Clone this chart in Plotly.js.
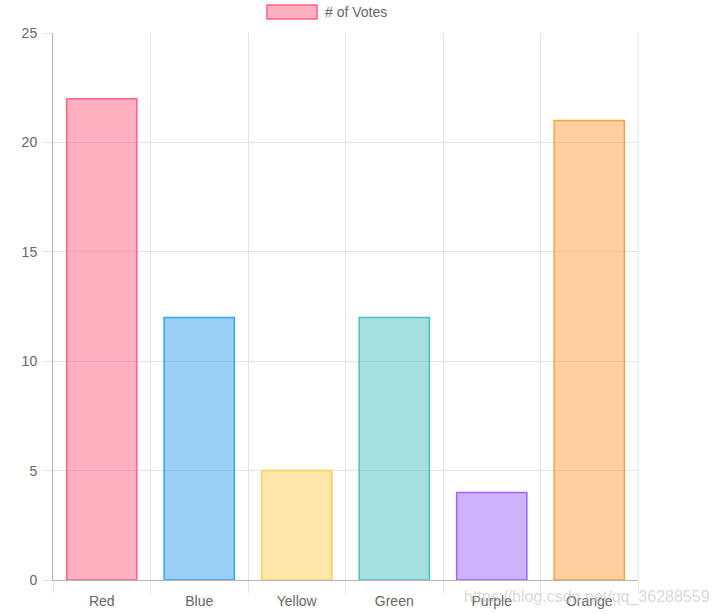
<!DOCTYPE html>
<html>
<head>
<meta charset="utf-8">
<script src="https://cdn.plot.ly/plotly-3.0.1.min.js"></script>
<style>html,body{margin:0;padding:0;background:#fff;}#chart{width:722px;height:614px;}</style>
</head>
<body>
<div id="chart"></div>
<script>
const categories = ["Red", "Blue", "Yellow", "Green", "Purple", "Orange"];
const votes = [22, 12, 5, 12, 4, 21];
const seriesName = "# of Votes";
const fillColors = ["rgba(255,99,132,0.5)", "rgba(54,162,235,0.5)", "rgba(255,206,86,0.5)", "rgba(75,192,192,0.5)", "rgba(153,102,255,0.5)", "rgba(255,159,64,0.5)"];
const borderColors = ["rgb(255,99,132)", "rgb(54,162,235)", "rgb(255,206,86)", "rgb(75,192,192)", "rgb(153,102,255)", "rgb(255,159,64)"];
const watermark = "https://blog.csdn.net/qq_36288559";

const font = {family: "Liberation Sans, Arial, Helvetica, sans-serif", size: 12, color: "#666"};
const W = 722, H = 614;
const mL = 53, mR = 84, mT = 33, mB = 34;
const pw = W - mL - mR, ph = H - mT - mB;
const px = x => (x - mL) / pw;
const py = y => (H - mB - y) / ph;

const data = [{
  type: "bar",
  x: categories,
  y: votes,
  name: seriesName,
  marker: {color: fillColors, line: {color: borderColors, width: 1.5}},
  hoverinfo: "x+y"
}];

const layout = {
  width: W, height: H,
  margin: {l: mL, r: mR, t: mT, b: mB, pad: 0},
  paper_bgcolor: "#fff", plot_bgcolor: "#fff",
  font: font,
  showlegend: false,
  bargap: 0.28,
  xaxis: {
    type: "category",
    tickson: "boundaries",
    ticks: "outside", ticklen: 12, tickcolor: "#e3e3e3", tickwidth: 1,
    showgrid: true, gridcolor: "#e3e3e3", gridwidth: 1,
    showline: true, linecolor: "#b5b5b5", linewidth: 1,
    mirror: false,
    tickfont: {family: font.family, size: 14, color: "#666"},
    ticklabelstandoff: 8,
    zeroline: false
  },
  yaxis: {
    range: [0, 25], dtick: 5, tick0: 0,
    ticks: "outside", ticklen: 9, tickcolor: "#e3e3e3", tickwidth: 1,
    showgrid: true, gridcolor: "#e3e3e3", gridwidth: 1,
    showline: true, linecolor: "#b5b5b5", linewidth: 1,
    zeroline: false,
    tickfont: {family: font.family, size: 14, color: "#666"},
    ticklabelstandoff: 3
  },
  shapes: [
    {type: "line", xref: "paper", yref: "paper", x0: 1, x1: 1, y0: 0, y1: 1, line: {color: "#e3e3e3", width: 1}},
    {type: "rect", xref: "paper", yref: "paper", x0: px(267), x1: px(317), y0: py(19), y1: py(5),
     fillcolor: fillColors[0], line: {color: borderColors[0], width: 1.5}}
  ],
  annotations: [
    {xref: "paper", yref: "paper", x: px(323), y: py(12), xanchor: "left", yanchor: "middle",
     text: seriesName, showarrow: false, font: {family: font.family, size: 14, color: "#666"}},
    {xref: "paper", yref: "paper", x: px(712), y: py(597), xanchor: "right", yanchor: "middle",
     text: watermark, showarrow: false, font: {family: font.family, size: 16, color: "rgba(190,190,190,0.6)"}}
  ]
};

Plotly.newPlot("chart", data, layout, {displayModeBar: false, staticPlot: true});
</script>
</body>
</html>
